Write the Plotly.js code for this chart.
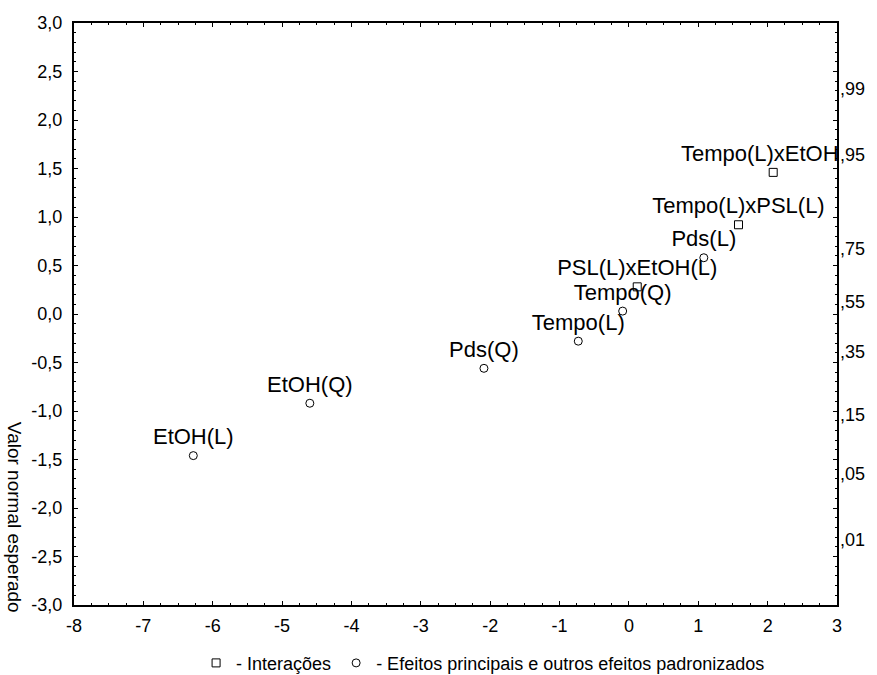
<!DOCTYPE html>
<html>
<head>
<meta charset="utf-8">
<script src="https://cdn.plot.ly/plotly-3.0.1.min.js"></script>
<style>
  html, body { margin: 0; padding: 0; background: #ffffff; }
  #chart { width: 877px; height: 675px; }
</style>
</head>
<body>
<div id="chart"></div>
<script>
// Standardized effects (x) against expected normal values (y)
const mainLabels = ["EtOH(L)", "EtOH(Q)", "Pds(Q)", "Tempo(L)", "Tempo(Q)", "Pds(L)"];
const mainEffect = [-6.28, -4.60, -2.09, -0.73, -0.09, 1.08];
const mainNormal = [-1.46, -0.92, -0.56, -0.28, 0.03, 0.58];

const interLabels = ["PSL(L)xEtOH(L)", "Tempo(L)xPSL(L)", "Tempo(L)xEtOH(L)"];
const interEffect = [0.12, 1.58, 2.08];
const interNormal = [0.28, 0.92, 1.46];

// Axis ticks
const xTickVals = [-8, -7, -6, -5, -4, -3, -2, -1, 0, 1, 2, 3];
const xTickText = ["-8", "-7", "-6", "-5", "-4", "-3", "-2", "-1", "0", "1", "2", "3"];
const yTickVals = [3, 2.5, 2, 1.5, 1, 0.5, 0, -0.5, -1, -1.5, -2, -2.5, -3];
const yTickText = ["3,0", "2,5", "2,0", "1,5", "1,0", "0,5", "0,0", "-0,5", "-1,0", "-1,5", "-2,0", "-2,5", "-3,0"];

// Cumulative probability labels on the right, placed at their normal quantiles
const probQuantiles = [2.326, 1.645, 0.674, 0.126, -0.385, -1.036, -1.645, -2.326];
const probText = [",99", ",95", ",75", ",55", ",35", ",15", ",05", ",01"];

const FONT = "Liberation Sans, Arial, sans-serif";

const interTrace = {
  type: "scatter",
  mode: "markers+text",
  name: "- Interações",
  x: interEffect,
  y: interNormal,
  text: interLabels,
  textposition: "top center",
  textfont: { family: FONT, size: 22, color: "#000" },
  marker: { symbol: "square-open", size: 8, color: "#000", line: { width: 1, color: "#000" } },
  cliponaxis: true,
  hoverinfo: "x+y+text"
};

const mainTrace = {
  type: "scatter",
  mode: "markers+text",
  name: "- Efeitos principais e outros efeitos padronizados",
  x: mainEffect,
  y: mainNormal,
  text: mainLabels,
  textposition: "top center",
  textfont: { family: FONT, size: 22, color: "#000" },
  marker: { symbol: "circle-open", size: 8, color: "#000", line: { width: 1, color: "#000" } },
  cliponaxis: true,
  hoverinfo: "x+y+text"
};

// Invisible trace that carries the right-hand probability axis
const probAxisTrace = {
  type: "scatter",
  mode: "markers",
  x: [null],
  y: [null],
  yaxis: "y2",
  showlegend: false,
  hoverinfo: "skip"
};

const layout = {
  width: 877,
  height: 675,
  paper_bgcolor: "#ffffff",
  plot_bgcolor: "#ffffff",
  font: { family: FONT, size: 18, color: "#000" },
  margin: { l: 74, r: 40, t: 23, b: 70, autoexpand: false },
  showlegend: true,
  legend: {
    orientation: "h",
    x: 0.16,
    xanchor: "left",
    y: -0.1,
    yanchor: "middle",
    font: { family: FONT, size: 18, color: "#000" },
    bgcolor: "rgba(0,0,0,0)",
    traceorder: "normal"
  },
  xaxis: {
    range: [-8, 3],
    tickmode: "array",
    tickvals: xTickVals,
    ticktext: xTickText,
    ticks: "inside",
    ticklen: 4,
    tickwidth: 1,
    tickcolor: "#000",
    minor: { tickmode: "linear", tick0: 0, dtick: 0.25, ticks: "inside", ticklen: 2, tickcolor: "#000", showgrid: false },
    showline: true,
    linewidth: 2,
    linecolor: "#000",
    mirror: "ticks",
    showgrid: false,
    zeroline: false,
    tickfont: { family: FONT, size: 18, color: "#000" },
    ticklabelstandoff: 3
  },
  yaxis: {
    range: [-3, 3],
    tickmode: "array",
    tickvals: yTickVals,
    ticktext: yTickText,
    ticks: "inside",
    ticklen: 4,
    tickwidth: 1,
    tickcolor: "#000",
    minor: { tickmode: "linear", tick0: 0, dtick: 0.1, ticks: "inside", ticklen: 2, tickcolor: "#000", showgrid: false },
    showline: true,
    linewidth: 2,
    linecolor: "#000",
    mirror: "ticks",
    showgrid: false,
    zeroline: false,
    tickfont: { family: FONT, size: 18, color: "#000" },
    ticklabelstandoff: 6
  },
  yaxis2: {
    overlaying: "y",
    side: "right",
    range: [-3, 3],
    tickmode: "array",
    tickvals: probQuantiles,
    ticktext: probText,
    ticks: "",
    showline: false,
    showgrid: false,
    zeroline: false,
    tickfont: { family: FONT, size: 18, color: "#000" },
    ticklabelstandoff: 2
  },
  annotations: [
    {
      text: "Valor normal esperado",
      xref: "paper",
      yref: "paper",
      x: -0.077,
      y: 0.151,
      xanchor: "center",
      yanchor: "middle",
      textangle: 90,
      showarrow: false,
      font: { family: FONT, size: 19, color: "#000" }
    }
  ]
};

Plotly.newPlot("chart", [interTrace, mainTrace, probAxisTrace], layout, { displayModeBar: false, staticPlot: true });
</script>
</body>
</html>
